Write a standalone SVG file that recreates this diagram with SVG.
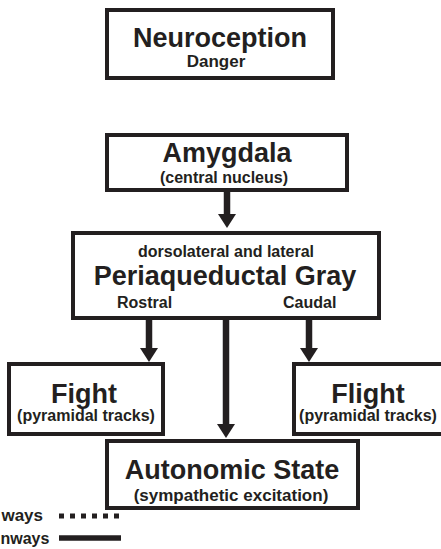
<svg xmlns="http://www.w3.org/2000/svg" width="441" height="549" viewBox="0 0 441 549">
<defs>
<style>
.box{fill:#fff;stroke:#231f20;stroke-width:4}
.t{font-family:"Liberation Sans",Arial,sans-serif;font-weight:bold;fill:#231f20;text-anchor:middle}
.big{font-size:27px}
.sm{font-size:16px}
.conn{stroke:#231f20;stroke-width:6.5;fill:none}
</style>
<marker id="ah" viewBox="0 0 14 18" refX="0" refY="9" markerWidth="14" markerHeight="18" markerUnits="userSpaceOnUse" orient="auto">
<path d="M0,0 L14,9 L0,18 z" fill="#231f20"/>
</marker>
</defs>
<rect width="441" height="549" fill="#fff"/>
<g id="connectors">
<line class="conn" x1="227" y1="192" x2="227" y2="214" marker-end="url(#ah)"/>
<line class="conn" x1="149" y1="320" x2="149" y2="348" marker-end="url(#ah)"/>
<line class="conn" x1="226" y1="320" x2="226" y2="424" marker-end="url(#ah)"/>
<line class="conn" x1="309" y1="320" x2="309" y2="348" marker-end="url(#ah)"/>
</g>
<g id="neuroception">
<rect class="box" x="107" y="10" width="226" height="68"/>
<text class="t big" x="220" y="47">Neuroception</text>
<text class="t" style="font-size:17px" x="216" y="67">Danger</text>
</g>
<g id="amygdala">
<rect class="box" x="107" y="135" width="240" height="55"/>
<text class="t big" x="227" y="162">Amygdala</text>
<text class="t sm" x="224" y="183">(central nucleus)</text>
</g>
<g id="pag">
<rect class="box" x="73" y="233" width="306" height="85"/>
<text class="t sm" x="226" y="257">dorsolateral and lateral</text>
<text class="t big" x="225" y="285">Periaqueductal Gray</text>
<text class="t sm" x="117" y="308" style="text-anchor:start">Rostral</text>
<text class="t sm" x="283" y="308" style="text-anchor:start">Caudal</text>
</g>
<g id="fight">
<rect class="box" x="9" y="364" width="154" height="70"/>
<text class="t big" x="84" y="403">Fight</text>
<text class="t sm" x="86" y="421">(pyramidal tracks)</text>
</g>
<g id="flight">
<rect class="box" x="294" y="364" width="152" height="70"/>
<text class="t big" x="368" y="403">Flight</text>
<text class="t sm" x="368" y="421">(pyramidal tracks)</text>
</g>
<g id="autonomic">
<rect class="box" x="107" y="441" width="251" height="67"/>
<text class="t big" x="232" y="479">Autonomic State</text>
<text class="t" style="font-size:17px" x="231" y="501">(sympathetic excitation)</text>
</g>
<g id="legend">
<text class="t" style="font-size:17px;text-anchor:end" x="43" y="521">ways</text>
<text class="t" style="font-size:16px;text-anchor:start" x="0.5" y="544">nways</text>
<line x1="59" y1="516" x2="121" y2="516" stroke="#231f20" stroke-width="5" stroke-dasharray="5 6"/>
<line x1="59" y1="538" x2="121" y2="538" stroke="#231f20" stroke-width="5.5"/>
</g>
</svg>
